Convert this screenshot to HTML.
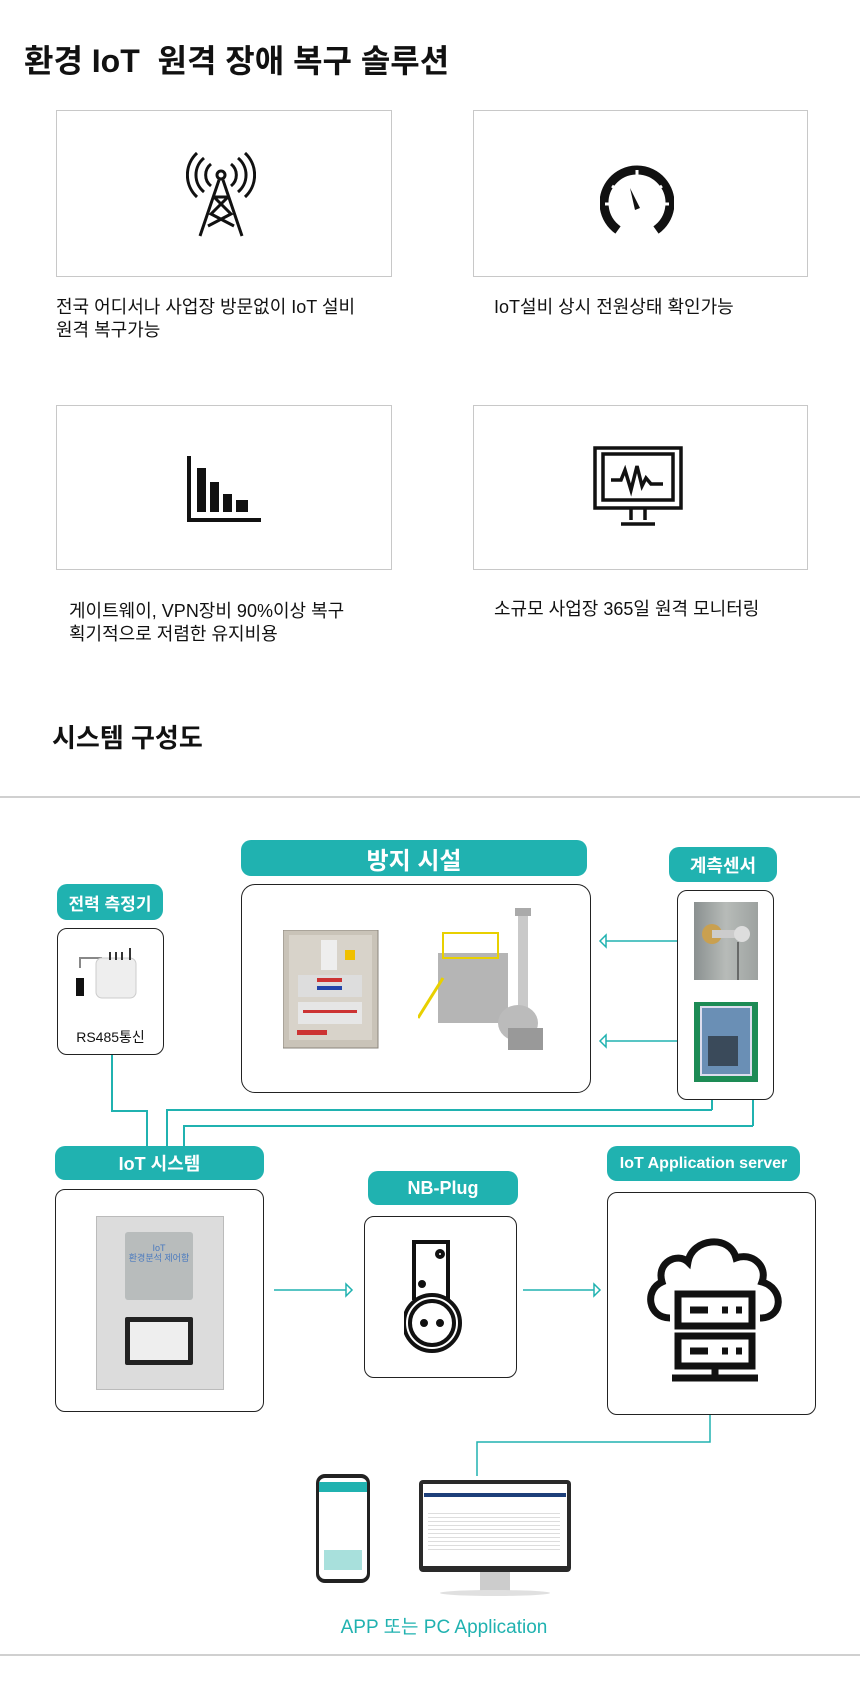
<!DOCTYPE html>
<html><head><meta charset="utf-8">
<style>
*{margin:0;padding:0;box-sizing:border-box}
body{width:860px;height:1700px;background:#fff;position:relative;overflow:hidden;font-family:"Liberation Sans","Noto Sans CJK KR",sans-serif;color:#111}
.a{position:absolute}
.box{position:absolute;border:1px solid #c8c8c8;background:#fff}
.t{position:absolute;font-size:18px;line-height:23px;color:#111}
.lab{position:absolute;background:#20b2b0;color:#fff;font-weight:bold;border-radius:10px;display:flex;align-items:center;justify-content:center}
.nb{position:absolute;border:1.3px solid #222;border-radius:10px;background:#fff}
.hl{position:absolute;background:#20b2b0;height:1.5px}
.vl{position:absolute;background:#20b2b0;width:1.5px}
</style></head><body>
<div class="a" style="left:24px;top:36px;font-size:32px;font-weight:bold;white-space:pre">환경 IoT  원격 장애 복구 솔루션</div>

<div class="box" style="left:56px;top:110px;width:336px;height:167px"></div>
<svg class="a" style="left:186px;top:152px" width="70" height="90" viewBox="0 0 70 90" fill="none" stroke="#111" stroke-width="3">
<circle cx="35" cy="23" r="4"/>
<path d="M25 12a14 14 0 0 0 0 22M45 12a14 14 0 0 1 0 22M18 6a22 22 0 0 0 0 34M52 6a22 22 0 0 1 0 34M11 1a30 30 0 0 0 0 44M59 1a30 30 0 0 1 0 44"/>
<path d="M33 28L14 84M37 28L56 84M28 45L45 62L22 74M42 45L25 62L48 74M28 45h14"/>
</svg>
<div class="box" style="left:473px;top:110px;width:335px;height:167px"></div>
<svg class="a" style="left:600px;top:164px" width="74" height="70" viewBox="0 0 74 70">
<path d="M18 66A33 33 0 1 1 56 66" fill="none" stroke="#111" stroke-width="9"/>
<g stroke="#fff" stroke-width="3"><path d="M37 6v10M12 22l7 5M62 22l-7 5M5 40h10M69 40h-10"/></g>
<path d="M30 24L40 44L35 46Z" fill="#111"/>
</svg>
<div class="t" style="left:56px;top:296px">전국 어디서나 사업장 방문없이 IoT 설비<br>원격 복구가능</div>
<div class="t" style="left:494px;top:296px">IoT설비 상시 전원상태 확인가능</div>

<div class="box" style="left:56px;top:405px;width:336px;height:165px"></div>
<svg class="a" style="left:183px;top:454px" width="80" height="70" viewBox="0 0 80 70">
<path d="M6 2V66H78" fill="none" stroke="#111" stroke-width="4"/>
<rect x="14" y="14" width="9" height="44" fill="#111"/><rect x="27" y="28" width="9" height="30" fill="#111"/><rect x="40" y="40" width="9" height="18" fill="#111"/><rect x="53" y="46" width="12" height="12" fill="#111"/>
</svg>
<div class="box" style="left:473px;top:405px;width:335px;height:165px"></div>
<svg class="a" style="left:593px;top:446px" width="90" height="86" viewBox="0 0 90 86" fill="none" stroke="#111" stroke-width="3.5">
<rect x="2" y="2" width="86" height="60"/><rect x="10" y="8" width="70" height="46"/>
<path d="M18 34h10l4-10l6 20l6-24l5 20l4-8l5 6h12"/>
<path d="M38 62v12M52 62v12M28 78h34"/>
</svg>
<div class="t" style="left:69px;top:600px">게이트웨이, VPN장비 90%이상 복구<br>획기적으로 저렴한 유지비용</div>
<div class="t" style="left:494px;top:598px">소규모 사업장 365일 원격 모니터링</div>

<div class="a" style="left:52px;top:718px;font-size:26px;font-weight:bold">시스템 구성도</div>
<div class="a" style="left:0;top:796px;width:860px;height:1.5px;background:#d0d0d0"></div>

<div class="lab" style="left:241px;top:840px;width:346px;height:36px;font-size:24px">방지 시설</div>
<div class="nb" style="left:241px;top:884px;width:350px;height:209px;border-radius:14px"></div>
<svg class="a" style="left:283px;top:930px" width="100" height="120" viewBox="0 0 100 120">
<rect x="0" y="0" width="95" height="118" fill="#c9c3b8" stroke="#8a857c"/><rect x="6" y="5" width="83" height="105" fill="#d8d3ca"/>
<rect x="38" y="10" width="16" height="30" fill="#eee"/><rect x="62" y="20" width="10" height="10" fill="#f0c000"/>
<rect x="15" y="45" width="64" height="22" fill="#ddd"/><rect x="34" y="48" width="25" height="4" fill="#c33"/><rect x="34" y="56" width="25" height="4" fill="#24a"/>
<rect x="15" y="72" width="64" height="22" fill="#e6e6e6"/><rect x="20" y="80" width="54" height="3" fill="#c33"/>
<rect x="14" y="100" width="30" height="5" fill="#c33"/></svg>
<svg class="a" style="left:418px;top:908px" width="135" height="150" viewBox="0 0 135 150">
<rect x="100" y="5" width="10" height="110" fill="#c9c9c9"/><rect x="97" y="0" width="16" height="8" fill="#aaa"/>
<rect x="20" y="45" width="70" height="70" fill="#b5b5b5"/><rect x="25" y="25" width="55" height="25" fill="none" stroke="#e8d000" stroke-width="2"/>
<path d="M0 110L25 70" stroke="#e8d000" stroke-width="3"/>
<ellipse cx="100" cy="115" rx="20" ry="18" fill="#bbb"/><rect x="90" y="120" width="35" height="22" fill="#999"/></svg>

<div class="lab" style="left:669px;top:847px;width:108px;height:35px;font-size:18px">계측센서</div>
<div class="nb" style="left:677px;top:890px;width:97px;height:210px"></div>
<div class="a" style="left:694px;top:902px;width:64px;height:78px;background:linear-gradient(90deg,#8a9090,#b7bbb8,#9da2a0)"></div>
<svg class="a" style="left:694px;top:902px" width="64" height="78"><circle cx="18" cy="32" r="10" fill="#c9a050"/><rect x="18" y="28" width="30" height="8" fill="#ccc"/><circle cx="48" cy="32" r="8" fill="#ddd"/><path d="M44 40v38" stroke="#222"/></svg>
<div class="a" style="left:694px;top:1002px;width:64px;height:80px;background:#1d8b55"></div>
<div class="a" style="left:700px;top:1006px;width:52px;height:70px;background:#6a8fb5;border:2px solid #dde"></div>
<div class="a" style="left:708px;top:1036px;width:30px;height:30px;background:#3a4a5a"></div>

<div class="lab" style="left:57px;top:884px;width:106px;height:36px;font-size:17px">전력 측정기</div>
<div class="nb" style="left:57px;top:928px;width:107px;height:127px"></div>
<svg class="a" style="left:72px;top:948px" width="75" height="55"><path d="M8 20V10h22" stroke="#888" fill="none" stroke-width="2"/><rect x="4" y="30" width="8" height="18" fill="#111"/><rect x="24" y="10" width="40" height="40" rx="6" fill="#eee" stroke="#ccc"/><path d="M38 4v8M44 4v8M50 4v8M58 0v12" stroke="#333" stroke-width="2"/></svg>
<div class="a" style="left:57px;top:1027px;width:107px;text-align:center;font-size:14px">RS485통신</div>

<!-- connectors -->
<div class="vl" style="left:111px;top:1055px;height:56px"></div>
<div class="hl" style="left:111px;top:1110px;width:36px"></div>
<div class="vl" style="left:146px;top:1110px;height:36px"></div>
<div class="vl" style="left:166px;top:1109px;height:37px"></div>
<div class="hl" style="left:166px;top:1109px;width:546px"></div>
<div class="vl" style="left:711px;top:1100px;height:10px"></div>
<div class="vl" style="left:183px;top:1125px;height:21px"></div>
<div class="hl" style="left:183px;top:1125px;width:570px"></div>
<div class="vl" style="left:752px;top:1100px;height:26px"></div>

<svg class="a" style="left:0;top:0" width="860" height="1700" fill="none" stroke="#20b2b0" stroke-width="1.5">
<path d="M606 941H677M606 1041H677M274 1290H346M523 1290H594M710 1415V1442H477V1476"/>
<path d="M606 935L600 941L606 947Z M606 1035L600 1041L606 1047Z M346 1284L352 1290L346 1296Z M594 1284L600 1290L594 1296Z" fill="#fff"/>
</svg>

<div class="lab" style="left:55px;top:1146px;width:209px;height:34px;font-size:18px">IoT 시스템</div>
<div class="nb" style="left:55px;top:1189px;width:209px;height:223px"></div>
<div class="a" style="left:96px;top:1216px;width:128px;height:174px;background:#dcdcdc;border:1px solid #bbb"></div>
<div class="a" style="left:125px;top:1232px;width:68px;height:68px;background:#b8bcbc;border-radius:3px"></div>
<div class="a" style="left:125px;top:1243px;width:68px;text-align:center;font-size:9px;color:#4a7abf;line-height:10px">IoT<br>환경분석 제어함</div>
<div class="a" style="left:125px;top:1317px;width:68px;height:48px;background:#222;border-radius:2px"></div>
<div class="a" style="left:130px;top:1322px;width:58px;height:38px;background:#eee"></div>

<div class="lab" style="left:368px;top:1171px;width:150px;height:34px;font-size:18px">NB-Plug</div>
<div class="nb" style="left:364px;top:1216px;width:153px;height:162px"></div>
<svg class="a" style="left:404px;top:1238px" width="70" height="120" viewBox="0 0 70 120" fill="none" stroke="#111" stroke-width="4">
<path d="M10 62V4h34v60"/><circle cx="36" cy="16" r="3"/><circle cx="18" cy="46" r="2" fill="#111"/>
<circle cx="28" cy="85" r="28" fill="#fff"/><circle cx="28" cy="85" r="22"/><circle cx="20" cy="85" r="2"/><circle cx="36" cy="85" r="2"/>
</svg>

<div class="lab" style="left:607px;top:1146px;width:193px;height:35px;font-size:16px">IoT Application server</div>
<div class="nb" style="left:607px;top:1192px;width:209px;height:223px"></div>
<svg class="a" style="left:642px;top:1232px" width="146" height="150" viewBox="0 0 146 150" fill="none" stroke="#111" stroke-width="7">
<path d="M28 86C6 86 2 58 20 50C14 30 36 20 46 30C50 6 88 2 94 26C110 20 126 34 120 50C142 56 142 86 118 86"/>
<rect x="36" y="62" width="74" height="32" fill="#fff"/><rect x="36" y="104" width="74" height="30" fill="#fff"/>
<path d="M48 78h18M80 78h6M94 78h6M48 119h18M80 119h6M94 119h6M73 134v10M30 146h86"/>
</svg>

<div class="a" style="left:316px;top:1474px;width:54px;height:109px;background:#222;border-radius:9px"></div>
<div class="a" style="left:319px;top:1478px;width:48px;height:101px;background:#fff;border-radius:6px"></div>
<div class="a" style="left:319px;top:1482px;width:48px;height:10px;background:#20b2b0"></div>
<div class="a" style="left:324px;top:1550px;width:38px;height:20px;background:#a8e0dc"></div>
<div class="a" style="left:419px;top:1480px;width:152px;height:92px;background:#2a2a2a;border-radius:4px"></div>
<div class="a" style="left:423px;top:1484px;width:144px;height:82px;background:#fff"></div>
<div class="a" style="left:424px;top:1493px;width:142px;height:4px;background:#1d3f7a"></div>
<div class="a" style="left:428px;top:1510px;width:132px;height:40px;background:repeating-linear-gradient(#fff 0 3px,#ddd 3px 4px)"></div>
<div class="a" style="left:480px;top:1572px;width:30px;height:22px;background:#ccc"></div>
<div class="a" style="left:440px;top:1590px;width:110px;height:6px;background:#e0e0e0;border-radius:50%"></div>

<div class="a" style="left:280px;top:1612px;width:328px;text-align:center;font-size:19px;color:#20b2b0">APP 또는 PC Application</div>
<div class="a" style="left:0;top:1654px;width:860px;height:1.5px;background:#d0d0d0"></div>
</body></html>
